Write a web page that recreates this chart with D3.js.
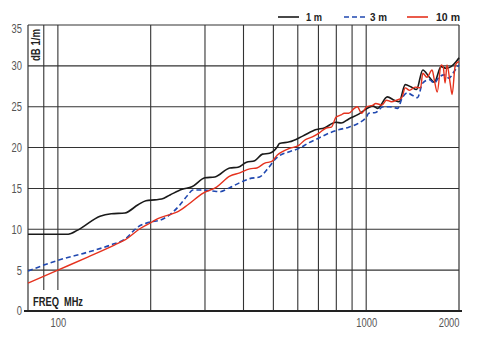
<!DOCTYPE html>
<html>
<head>
<meta charset="utf-8">
<script src="https://cdn.jsdelivr.net/npm/d3@7"></script>
<style>
  body { margin: 0; background: #fff; }
  svg { display: block; }
</style>
</head>
<body>
<div id="chart"></div>
<script>
// frequency (MHz) and level (dB 1/m)
var freq1m = [80, 90, 100, 108, 116, 137, 149, 165, 182, 193, 206, 217, 231, 253, 272, 300, 323, 361, 384, 409, 435, 461, 486, 515, 523, 564, 622, 689, 731, 798, 829, 878, 946, 1019, 1050, 1089, 1171, 1233, 1279, 1339, 1400, 1456, 1526, 1603, 1663, 1750, 1816, 1885, 1956, 2000];
var db1m = [9.4, 9.4, 9.4, 9.4, 9.9, 11.6, 11.9, 12.0, 13.0, 13.5, 13.6, 13.7, 14.2, 14.9, 15.2, 16.3, 16.4, 17.5, 17.6, 18.2, 18.4, 19.2, 19.3, 20.1, 20.5, 20.7, 21.4, 22.2, 22.4, 23.1, 23.0, 23.5, 24.1, 24.9, 25.1, 24.8, 26.2, 25.8, 25.6, 27.7, 27.4, 27.1, 29.5, 28.6, 28.0, 29.9, 29.7, 29.9, 30.5, 31.0];

var freq3m = [80, 100, 125, 149, 165, 182, 200, 214, 231, 249, 264, 274, 295, 316, 335, 361, 389, 419, 451, 479, 511, 523, 564, 606, 652, 705, 761, 818, 878, 946, 1004, 1019, 1074, 1134, 1193, 1264, 1310, 1360, 1410, 1465, 1526, 1603, 1663, 1722, 1789, 1856, 1928, 2000];
var db3m = [4.9, 6.2, 7.2, 8.1, 8.8, 10.3, 10.9, 11.1, 11.8, 13.0, 14.2, 14.8, 14.8, 14.7, 14.6, 15.1, 15.7, 16.2, 16.4, 17.4, 18.7, 19.0, 19.5, 19.9, 20.6, 21.2, 21.8, 22.2, 22.5, 23.0, 23.8, 24.2, 24.3, 25.0, 25.0, 24.8, 26.1, 26.7, 26.4, 26.1, 27.9, 28.3, 27.9, 28.6, 28.9, 28.5, 29.3, 30.1];

var freq10m = [80, 100, 125, 153, 165, 185, 200, 211, 231, 243, 264, 295, 328, 361, 389, 419, 442, 469, 494, 515, 535, 564, 606, 631, 669, 705, 742, 771, 798, 829, 849, 878, 915, 936, 966, 1004, 1052, 1074, 1125, 1163, 1208, 1255, 1304, 1339, 1382, 1441, 1501, 1526, 1574, 1636, 1663, 1700, 1750, 1777, 1803, 1829, 1872, 1900, 1942, 1970, 2000];
var db10m = [3.4, 5.0, 6.6, 8.1, 8.7, 10.1, 10.8, 11.3, 11.8, 12.1, 13.0, 14.4, 15.2, 16.5, 16.9, 17.4, 17.5, 18.1, 18.3, 19.1, 19.5, 19.9, 20.3, 20.9, 21.3, 21.8, 22.4, 22.5, 23.7, 24.0, 24.2, 24.2, 24.8, 25.0, 24.2, 25.0, 25.2, 25.4, 25.2, 25.8, 25.6, 25.8, 26.1, 27.3, 27.0, 27.4, 27.3, 29.1, 28.6, 29.5, 28.3, 26.8, 30.1, 29.9, 27.9, 30.1, 27.9, 26.5, 29.9, 30.4, 30.5];

var gridFreqs = [90, 100, 200, 300, 400, 500, 600, 700, 800, 900, 1000];
var xTickLabels = [100, 1000, 2000];
var yTicks = [0, 5, 10, 15, 20, 25, 30, 35];
var seriesNames = ["1 m", "3 m", "10 m"];

var width = 479,
    height = 339;

var x = d3.scaleLog()
  .domain([80, 2000])
  .range([28, 459]);

var y = d3.scaleLinear()
  .domain([0, 35])
  .range([311, 25]);

var svg = d3.select("#chart").append("svg")
  .attr("width", width)
  .attr("height", height);

var font = "'Liberation Sans', Arial, sans-serif";

// squeeze text to look like a condensed face
function condense(sel, perChar) {
  sel.attr("lengthAdjust", "spacingAndGlyphs")
    .attr("textLength", function() { return this.textContent.length * perChar; });
}

// horizontal grid
svg.append("g")
  .selectAll("line")
  .data(yTicks.slice(1))
  .enter().append("line")
  .attr("x1", x(80))
  .attr("x2", x(2000))
  .attr("y1", function(d) { return y(d); })
  .attr("y2", function(d) { return y(d); })
  .attr("stroke", "#333")
  .attr("stroke-width", 1.1);

// vertical grid (90 and 100 stop above the FREQ label)
svg.append("g")
  .selectAll("line")
  .data(gridFreqs)
  .enter().append("line")
  .attr("x1", function(d) { return x(d); })
  .attr("x2", function(d) { return x(d); })
  .attr("y1", y(35))
  .attr("y2", function(d) { return d <= 100 ? 290 : y(0); })
  .attr("stroke", "#333")
  .attr("stroke-width", 1.1);

// frame
svg.append("line")
  .attr("x1", x(80)).attr("x2", x(80))
  .attr("y1", y(35)).attr("y2", y(0))
  .attr("stroke", "#333").attr("stroke-width", 1.2);
svg.append("line")
  .attr("x1", x(2000)).attr("x2", x(2000))
  .attr("y1", y(35)).attr("y2", y(0))
  .attr("stroke", "#333").attr("stroke-width", 1.2);

// y labels
svg.append("g")
  .selectAll("text")
  .data(yTicks)
  .enter().append("text")
  .attr("x", 22)
  .attr("y", function(d) { return y(d) + (d == 35 ? 4 : 0); })
  .attr("dy", "0.35em")
  .attr("text-anchor", "end")
  .attr("font-family", font)
  .attr("font-size", 12.5)
  .attr("fill", "#555")
  .text(function(d) { return d; })
  .call(condense, 5.2);

// x labels
var xAxis = svg.append("g")
  .attr("transform", "translate(0," + y(0) + ")")
  .call(d3.axisBottom(x)
    .tickValues(xTickLabels)
    .tickSize(0)
    .tickPadding(7)
    .tickFormat(d3.format("d")));
xAxis.select(".domain").remove();
xAxis.selectAll("text")
  .attr("font-family", font)
  .attr("font-size", 12.5)
  .attr("fill", "#555")
  .attr("text-anchor", function(d) { return d == 2000 ? "end" : "middle"; })
  .call(condense, 5.2);

// bottom axis line
svg.append("line")
  .attr("x1", 24).attr("x2", 462)
  .attr("y1", y(0)).attr("y2", y(0))
  .attr("stroke", "#222").attr("stroke-width", 2);

// curves
var line = d3.line()
  .x(function(d) { return x(d[0]); })
  .y(function(d) { return y(d[1]); })
  .curve(d3.curveMonotoneX);

function pairs(f, v) {
  return f.map(function(d, i) { return [d, v[i]]; });
}

svg.append("path")
  .attr("d", line(pairs(freq1m, db1m)))
  .attr("fill", "none")
  .attr("stroke", "#1a1a1a")
  .attr("stroke-width", 1.6);

svg.append("path")
  .attr("d", line(pairs(freq3m, db3m)))
  .attr("fill", "none")
  .attr("stroke", "#2048b0")
  .attr("stroke-width", 1.6)
  .attr("stroke-dasharray", "5,3");

svg.append("path")
  .attr("d", line(pairs(freq10m, db10m)))
  .attr("fill", "none")
  .attr("stroke", "#e5321e")
  .attr("stroke-width", 1.4);

// axis titles
svg.append("text")
  .attr("transform", "translate(40,61)rotate(-90)")
  .attr("font-family", font)
  .attr("font-weight", "bold")
  .attr("font-size", 12)
  .attr("fill", "#222")
  .attr("textLength", 32)
  .attr("lengthAdjust", "spacingAndGlyphs")
  .text("dB 1/m");

svg.append("text")
  .attr("x", 33)
  .attr("y", 306)
  .attr("font-family", font)
  .attr("font-weight", "bold")
  .attr("font-size", 12)
  .attr("fill", "#222")
  .attr("textLength", 26)
  .attr("lengthAdjust", "spacingAndGlyphs")
  .text("FREQ");

svg.append("text")
  .attr("x", 64)
  .attr("y", 306)
  .attr("font-family", font)
  .attr("font-weight", "bold")
  .attr("font-size", 12)
  .attr("fill", "#222")
  .attr("textLength", 19)
  .attr("lengthAdjust", "spacingAndGlyphs")
  .text("MHz");

// legend
var legendX = [278, 344, 407];
var legendTextX = [306, 370, 436];
var legendTextW = [16, 17, 24];
var legendStyle = [
  { color: "#1a1a1a", dash: null },
  { color: "#2048b0", dash: "5,3" },
  { color: "#e5321e", dash: null }
];
var legend = svg.append("g");
seriesNames.forEach(function(name, i) {
  legend.append("line")
    .attr("x1", legendX[i]).attr("x2", legendX[i] + 21)
    .attr("y1", 17).attr("y2", 17)
    .attr("stroke", legendStyle[i].color)
    .attr("stroke-width", 1.6)
    .attr("stroke-dasharray", legendStyle[i].dash);
  legend.append("text")
    .attr("x", legendTextX[i])
    .attr("y", 17)
    .attr("dy", "0.35em")
    .attr("font-family", font)
    .attr("font-weight", "bold")
    .attr("font-size", 11.5)
    .attr("fill", "#222")
    .attr("textLength", legendTextW[i])
    .attr("lengthAdjust", "spacingAndGlyphs")
    .text(name);
});
</script>
</body>
</html>
